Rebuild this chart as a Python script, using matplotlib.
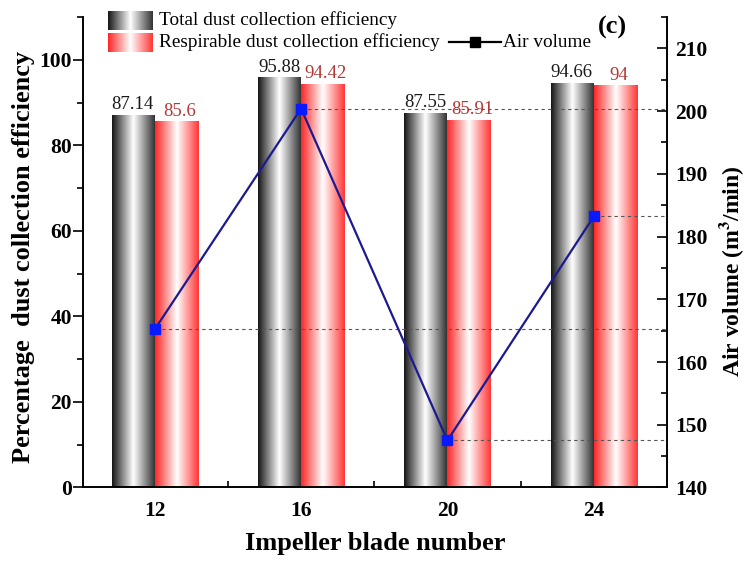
import numpy as np
import matplotlib
matplotlib.use('Agg')
import matplotlib.pyplot as plt
from matplotlib.colors import LinearSegmentedColormap
from matplotlib.ticker import MultipleLocator

# data
blade_numbers = ['12', '16', '20', '24']
total_eff = [87.14, 95.88, 87.55, 94.66]
resp_eff = [85.6, 94.42, 85.91, 94]
total_labels = ['87.14', '95.88', '87.55', '94.66']
resp_labels = ['85.6', '94.42', '85.91', '94']
air_volume = [165.2, 200.4, 147.5, 183.2]

plt.rcParams['font.family'] = ['Liberation Serif', 'DejaVu Serif']
plt.rcParams['mathtext.fontset'] = 'stix'

black_cmap = LinearSegmentedColormap.from_list(
    'blk', [(0, '#151515'), (0.5, '#ffffff'), (1, '#333333')])
red_cmap = LinearSegmentedColormap.from_list(
    'red', [(0, '#ff2525'), (0.5, '#ffffff'), (1, '#ff3535')])
grad = np.linspace(0, 1, 256).reshape(1, -1)

fig = plt.figure(figsize=(7.49, 5.62), dpi=100)
ax = fig.add_axes([0.1108, 0.1326, 0.7797, 0.8372])
ax2 = ax.twinx()

x = np.arange(len(blade_numbers))
w = 0.3


def gradient_bars(rects, cmap):
    for r in rects:
        r.set_facecolor('none')
        r.set_edgecolor('none')
        x0, y0 = r.get_x(), r.get_y()
        im = ax.imshow(grad, cmap=cmap, aspect='auto', zorder=2,
                       extent=[x0, x0 + r.get_width(), y0, y0 + r.get_height()])
        im.set_clip_path(r)


bars_total = ax.bar(x - w / 2, total_eff, width=w * 0.96)
bars_resp = ax.bar(x + w / 2, resp_eff, width=w)
gradient_bars(bars_total, black_cmap)
gradient_bars(bars_resp, red_cmap)

for xi, v, s in zip(x, total_eff, total_labels):
    ax.text(xi - w / 2, v + 0.4, s, ha='center', va='bottom',
            fontsize=13.5, color='#1a1a1a')
for xi, v, s in zip(x, resp_eff, resp_labels):
    ax.text(xi + w / 2 + 0.02, v + 0.4, s, ha='center', va='bottom',
            fontsize=13.5, color='#b23a36')

ax.set_xlim(-0.49, 3.5)
ax.set_ylim(0, 110)
ax.set_xticks(x)
ax.set_xticklabels(blade_numbers)
ax.set_xticks(x[:-1] + 0.5, minor=True)
ax.yaxis.set_major_locator(MultipleLocator(20))
ax.yaxis.set_minor_locator(MultipleLocator(10))

# air volume line on the right axis
ax2.set_ylim(140, 215)
ax2.yaxis.set_major_locator(MultipleLocator(10))
ax2.yaxis.set_minor_locator(MultipleLocator(5))
ax2.hlines(air_volume, x, 3.5, colors='#555555', linestyles=(0, (3, 3)),
           linewidth=0.8, zorder=1)
ax2.plot(x, air_volume, color='#1b1b8f', linewidth=1.6, marker='s',
         markersize=7.5, markerfacecolor='#0a1aff', markeredgecolor='#0a1aff',
         zorder=3)

for a in (ax, ax2):
    a.spines['top'].set_visible(False)
    for sp in a.spines.values():
        sp.set_linewidth(1.2)

ax.tick_params(axis='y', which='major', direction='out', length=7, width=1.2,
               labelsize=15.5, pad=1)
ax.tick_params(axis='y', which='minor', direction='out', length=4, width=1.2)
ax.tick_params(axis='x', which='major', direction='in', length=4, width=1.2,
               labelsize=15.5, pad=10)
ax.tick_params(axis='x', which='minor', direction='in', length=4, width=1.2)
ax2.tick_params(axis='y', which='major', direction='in', length=7, width=1.2,
                labelsize=15.5, pad=6)
ax2.tick_params(axis='y', which='minor', direction='in', length=4, width=1.2)
for lbl in ax.get_xticklabels() + ax.get_yticklabels() + ax2.get_yticklabels():
    lbl.set_fontweight('bold')

ax.set_xlabel('Impeller blade number', fontsize=19, fontweight='bold', labelpad=8)
ax.set_ylabel('Percentage  dust collection efficiency', fontsize=19,
              fontweight='bold')
ax.yaxis.set_label_coords(-0.083, 0.49)
ax2.set_ylabel('Air volume (m$^{\\mathbf{3}}$/min)', fontsize=17,
               fontweight='bold')
ax2.yaxis.set_label_coords(1.086, 0.46)

# legend, drawn by hand to keep the gradient swatches
for ypos, cmap in ((0.993, black_cmap), (0.946, red_cmap)):
    sw = ax.inset_axes([0.043, ypos - 0.02, 0.077, 0.040])
    sw.imshow(grad, cmap=cmap, aspect='auto')
    sw.axis('off')
ax.text(0.13, 0.993, 'Total dust collection efficiency', transform=ax.transAxes,
        fontsize=13.9, va='center', ha='left')
ax.text(0.13, 0.946, 'Respirable dust collection efficiency', transform=ax.transAxes,
        fontsize=13.9, va='center', ha='left')
ax.plot([0.627, 0.715], [0.946, 0.946], transform=ax.transAxes, color='black',
        linewidth=1.6, clip_on=False)
ax.plot([0.671], [0.946], transform=ax.transAxes, marker='s', color='black',
        markersize=7, clip_on=False)
ax.text(0.72, 0.946, 'Air volume', transform=ax.transAxes,
        fontsize=13.9, va='center', ha='left')
ax.text(0.882, 0.978, '(c)', transform=ax.transAxes, fontsize=19,
        fontweight='bold', va='center', ha='left')

fig.savefig('out.png', dpi=100)
